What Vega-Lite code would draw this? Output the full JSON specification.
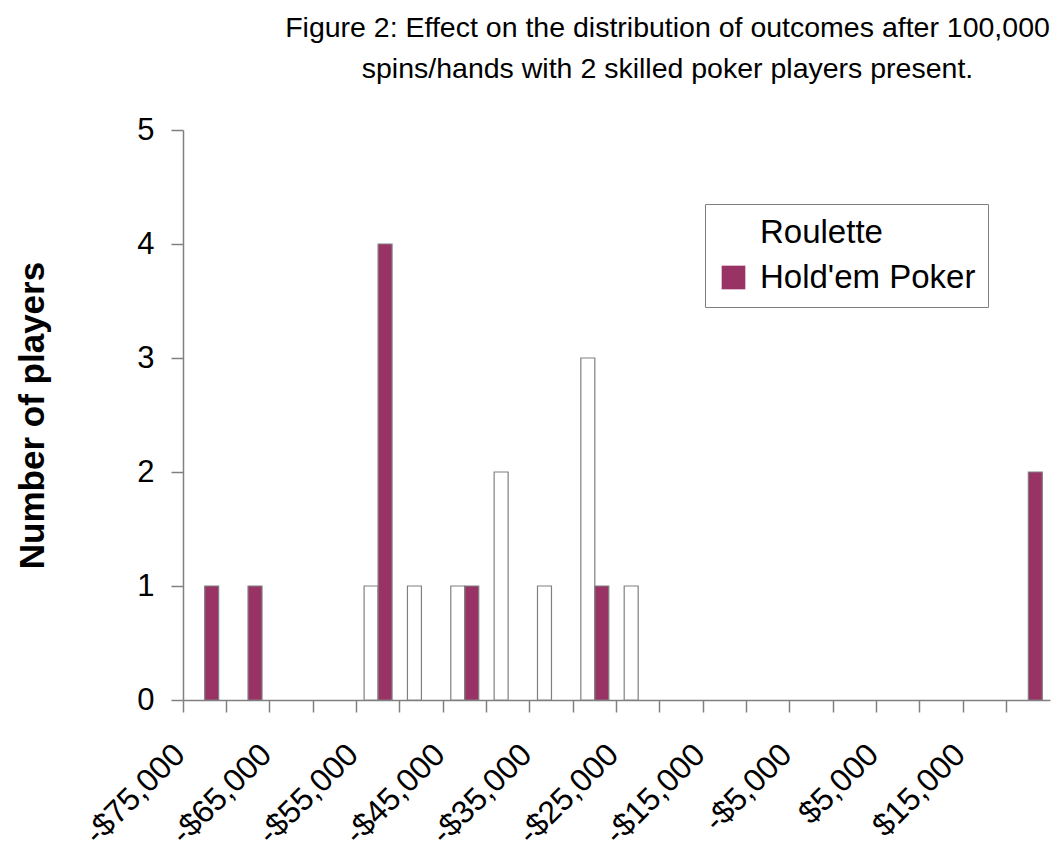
{
  "$schema": "https://vega.github.io/schema/vega-lite/v6.json",
  "width": 867,
  "height": 570,
  "autosize": {"type": "none"},
  "padding": {"left": 183, "top": 130, "right": 4, "bottom": 153},
  "background": "white",
  "config": {
    "font": "Liberation Sans",
    "view": {"stroke": null}
  },
  "title": {
    "text": ["Figure 2: Effect on the distribution of outcomes after 100,000", "spins/hands with 2 skilled poker players present."],
    "fontSize": 28.5,
    "fontWeight": "normal",
    "font": "Liberation Sans",
    "color": "black",
    "lineHeight": 41,
    "anchor": "middle",
    "dx": 51,
    "offset": 31
  },
  "data": {
    "values": [
      {"outcome": -75000, "game": "Hold'em Poker", "count": 1},
      {"outcome": -70000, "game": "Hold'em Poker", "count": 1},
      {"outcome": -55000, "game": "Roulette", "count": 1},
      {"outcome": -55000, "game": "Hold'em Poker", "count": 4},
      {"outcome": -50000, "game": "Roulette", "count": 1},
      {"outcome": -45000, "game": "Roulette", "count": 1},
      {"outcome": -45000, "game": "Hold'em Poker", "count": 1},
      {"outcome": -40000, "game": "Roulette", "count": 2},
      {"outcome": -35000, "game": "Roulette", "count": 1},
      {"outcome": -30000, "game": "Roulette", "count": 3},
      {"outcome": -30000, "game": "Hold'em Poker", "count": 1},
      {"outcome": -25000, "game": "Roulette", "count": 1},
      {"outcome": 20000, "game": "Hold'em Poker", "count": 2}
    ]
  },
  "mark": {"type": "bar", "stroke": "#808080", "strokeWidth": 1.2},
  "encoding": {
    "x": {
      "field": "outcome",
      "type": "ordinal",
      "scale": {
        "domain": [-75000, -70000, -65000, -60000, -55000, -50000, -45000, -40000, -35000, -30000, -25000, -20000, -15000, -10000, -5000, 0, 5000, 10000, 15000, 20000],
        "paddingInner": 0,
        "paddingOuter": 0
      },
      "axis": {
        "title": null,
        "bandPosition": 0,
        "labelAngle": -45,
        "labelAlign": "right",
        "labelBaseline": "middle",
        "labelFontSize": 32,
        "labelColor": "black",
        "labelPadding": 37,
        "labelOffset": -25,
        "labelOverlap": false,
        "labelLimit": 400,
        "labelExpr": "abs(datum.value % 10000) == 5000 ? ((datum.value < 0 ? '-' : '') + '$' + format(abs(datum.value), ',')) : ''",
        "tickSize": 12,
        "tickColor": "#808080",
        "tickWidth": 1.5,
        "domainColor": "#808080",
        "domainWidth": 1.5
      }
    },
    "xOffset": {
      "field": "game",
      "type": "nominal",
      "scale": {"domain": ["Roulette", "Hold'em Poker"], "paddingInner": 0, "paddingOuter": 0.55}
    },
    "y": {
      "field": "count",
      "type": "quantitative",
      "scale": {"domain": [0, 5], "nice": false},
      "axis": {
        "title": "Number of players",
        "titleFontSize": 35,
        "titleFontWeight": "bold",
        "titleColor": "black",
        "titlePadding": 86,
        "values": [0, 1, 2, 3, 4, 5],
        "grid": false,
        "labelFontSize": 31,
        "labelColor": "black",
        "labelPadding": 17,
        "tickSize": 12,
        "tickColor": "#808080",
        "tickWidth": 1.5,
        "domainColor": "#808080",
        "domainWidth": 1.5
      }
    },
    "fill": {
      "field": "game",
      "type": "nominal",
      "scale": {"domain": ["Roulette", "Hold'em Poker"], "range": ["#ffffff", "#993366"]},
      "legend": {
        "title": null,
        "orient": "none",
        "legendX": 522,
        "legendY": 74,
        "direction": "vertical",
        "fillColor": "white",
        "strokeColor": "#808080",
        "padding": 12,
        "labelFontSize": 33,
        "labelLimit": 400,
        "labelColor": "black",
        "labelOffset": 10,
        "symbolType": "square",
        "symbolSize": 560,
        "symbolStrokeWidth": 0,
        "symbolOpacity": 1,
        "rowPadding": 11
      }
    }
  }
}
